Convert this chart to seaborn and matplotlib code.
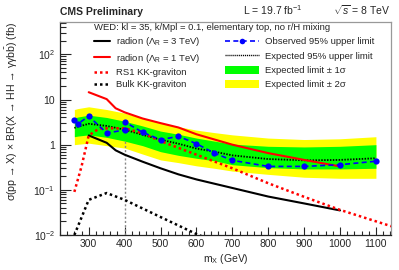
import numpy as np
import pandas as pd
import matplotlib
matplotlib.use('Agg')
import matplotlib.pyplot as plt
import matplotlib.ticker as mticker
from matplotlib.lines import Line2D
from matplotlib.patches import Patch
import seaborn as sns

sns.set_style('ticks')
plt.rcParams['font.family'] = ['Liberation Sans', 'DejaVu Sans']
plt.rcParams['mathtext.fontset'] = 'custom'
plt.rcParams['mathtext.rm'] = 'Liberation Sans'
plt.rcParams['mathtext.it'] = 'Liberation Sans:italic'
plt.rcParams['mathtext.bf'] = 'Liberation Sans:bold'

# expected limit and bands (fb)
mass = [260, 270, 300, 350, 400, 450, 500, 550, 600, 650, 700, 800, 900, 1000, 1100]
expected = [2.35, 2.5, 2.9, 2.6, 2.15, 1.65, 1.29, 1.05, 0.82, 0.70, 0.58, 0.48, 0.45, 0.46, 0.50]
green_hi = [3.9, 4.1, 4.5, 4.0, 3.3, 2.6, 2.0, 1.7, 1.4, 1.2, 1.03, 0.92, 0.89, 0.92, 1.0]
green_lo = [1.5, 1.55, 1.65, 1.45, 1.2, 0.95, 0.70, 0.58, 0.50, 0.44, 0.36, 0.31, 0.29, 0.29, 0.30]
yellow_hi = [6.0, 6.3, 6.9, 6.0, 5.0, 3.9, 3.0, 2.5, 2.1, 1.85, 1.65, 1.4, 1.3, 1.35, 1.5]
yellow_lo = [1.0, 1.02, 1.08, 0.95, 0.84, 0.62, 0.46, 0.40, 0.34, 0.30, 0.26, 0.22, 0.19, 0.18, 0.18]

# observed limit (two values at 400: low / high mass analysis)
obs_mass = [260, 270, 300, 350, 400, 400, 450, 500, 550, 600, 650, 700, 800, 900, 1000, 1100]
observed = [3.5, 2.9, 4.26, 1.82, 2.1, 3.2, 1.88, 1.29, 1.53, 1.05, 0.65, 0.45, 0.33, 0.33, 0.36, 0.43]

# signal models
radion_mass = [300, 350, 375, 400, 450, 500, 550, 600, 700, 800, 900, 1000]
radion_1tev = [14.5, 10.2, 6.4, 5.2, 3.8, 3.0, 2.4, 1.7, 1.0, 0.65, 0.46, 0.33]
radion_3tev = [1.6, 1.1, 0.75, 0.6, 0.42, 0.30, 0.22, 0.17, 0.11, 0.071, 0.05, 0.035]

rs1_mass = [260, 280, 300, 330, 400, 450, 500, 600, 700, 800, 900, 1000, 1150]
rs1_grav = [0.09, 0.33, 1.6, 2.3, 2.3, 1.8, 1.2, 0.6, 0.3, 0.14, 0.07, 0.036, 0.015]

bulk_mass = [260, 300, 350, 400, 500, 600, 700]
bulk_grav = [0.01, 0.06, 0.085, 0.06, 0.025, 0.0105, 0.005]

W, H = 399, 270
fig = plt.figure(figsize=(W / 100, H / 100), dpi=100)
ax = fig.add_axes([60 / W, 1 - 235 / H, 331 / W, 213 / H])

ax.fill_between(mass, yellow_lo, yellow_hi, color='#ffff00', lw=0)
ax.fill_between(mass, green_lo, green_hi, color='#00ff00', lw=0)

ax.vlines(400, 0.01, 1.25, colors='#888888', linestyles=(0, (1.5, 1.5)), lw=1)

sns.lineplot(x=mass, y=expected, ax=ax, color='black', lw=1.3,
             linestyle=(0, (0.8, 0.8)), estimator=None, sort=False)
sns.lineplot(x=radion_mass, y=radion_3tev, ax=ax, color='black', lw=1.5,
             estimator=None, sort=False)
sns.lineplot(x=radion_mass, y=radion_1tev, ax=ax, color='#ff0000', lw=1.5,
             estimator=None, sort=False)
sns.lineplot(x=rs1_mass, y=rs1_grav, ax=ax, color='#ff0000', lw=1.8,
             linestyle=(0, (1, 1.2)), estimator=None, sort=False)
sns.lineplot(x=bulk_mass, y=bulk_grav, ax=ax, color='black', lw=1.8,
             linestyle=(0, (1, 1.2)), estimator=None, sort=False)
sns.lineplot(x=obs_mass, y=observed, ax=ax, color='#0000ff', lw=1.2,
             linestyle=(0, (3, 2)), marker='o', markersize=4.5,
             markeredgewidth=0, estimator=None, sort=False)

ax.set_yscale('log')
ax.set_xlim(220, 1142)
ax.set_ylim(0.01, 520)

ax.xaxis.set_major_locator(mticker.FixedLocator(range(300, 1101, 100)))
ax.xaxis.set_minor_locator(mticker.MultipleLocator(20))
ax.yaxis.set_major_locator(mticker.FixedLocator([0.01, 0.1, 1, 10, 100]))
ax.set_yticklabels(['10$^{-2}$', '10$^{-1}$', '1', '10', '10$^{2}$'])
ax.yaxis.set_minor_locator(mticker.LogLocator(base=10, subs=np.arange(2, 10)))
ax.yaxis.set_minor_formatter(mticker.NullFormatter())
ax.tick_params(axis='both', which='both', direction='in', labelsize=7.5, width=0.8)
ax.tick_params(axis='y', which='major', length=8)
ax.tick_params(axis='y', which='minor', length=4)
ax.tick_params(axis='x', which='major', length=6, pad=3)
ax.tick_params(axis='x', which='minor', length=3)
for s in ax.spines.values():
    s.set_linewidth(0.9)
ax.spines['right'].set_color('#999999')
ax.spines['top'].set_color('#999999')

ax.set_xlabel('m$_{\\mathrm{X}}$ (GeV)', fontsize=7.5, labelpad=2)
ax.set_ylabel('σ(pp → X) × BR(X → HH → γγ$\\mathrm{b\\bar{b}}$) (fb)',
              fontsize=7.6, loc='top', labelpad=2)
ax.yaxis.set_label_coords(-0.12, 1.0)

fig.text(60 / W, 1 - 15 / H, 'CMS Preliminary', fontsize=7.5, fontweight='bold',
         ha='left', va='baseline')
fig.text(243 / W, 1 - 15 / H, 'L = 19.7 fb$^{-1}$', fontsize=7.5, ha='left', va='baseline')
fig.text(390 / W, 1 - 15 / H, '$\\sqrt{s}$ = 8 TeV', fontsize=7.5, ha='right', va='baseline')

left_handles = [
    Line2D([], [], color='black', lw=1.5),
    Line2D([], [], color='#ff0000', lw=1.5),
    Line2D([], [], color='#ff0000', lw=1.8, linestyle=(0, (1, 1.2))),
    Line2D([], [], color='black', lw=1.8, linestyle=(0, (1, 1.2))),
]
left_labels = ['radion (Λ$_{\\mathrm{R}}$ = 3 TeV)', 'radion (Λ$_{\\mathrm{R}}$ = 1 TeV)',
               'RS1 KK-graviton', 'Bulk KK-graviton']
leg1 = ax.legend(left_handles, left_labels, loc='upper left',
                 bbox_to_anchor=(92 / W, 1 - 21 / H), bbox_transform=fig.transFigure,
                 frameon=False, fontsize=6.8, handlelength=1.7, handletextpad=0.6,
                 labelspacing=0.36, borderpad=0.2, borderaxespad=0,
                 title='WED: kl = 35, k/Mpl = 0.1, elementary top, no r/H mixing',
                 title_fontsize=6.8)
leg1._legend_box.align = 'left'
ax.add_artist(leg1)

right_handles = [
    Line2D([], [], color='#0000ff', lw=1.2, linestyle=(0, (3, 2)), marker='o',
           markersize=4, markeredgewidth=0),
    Line2D([], [], color='black', lw=1.0, linestyle=(0, (0.8, 0.6))),
    Patch(facecolor='#00ff00', edgecolor='none'),
    Patch(facecolor='#ffff00', edgecolor='none'),
]
right_labels = ['Observed 95% upper limit', 'Expected 95% upper limit',
                'Expected limit ± 1σ', 'Expected limit ± 2σ']
ax.legend(right_handles, right_labels, loc='upper left',
          bbox_to_anchor=(223 / W, 1 - 35 / H), bbox_transform=fig.transFigure,
          frameon=False, fontsize=6.8, handlelength=3.6, handletextpad=0.6,
          labelspacing=0.52, borderpad=0.2, borderaxespad=0, numpoints=1,
          handleheight=1.0)

fig.savefig('out.png', dpi=100)
